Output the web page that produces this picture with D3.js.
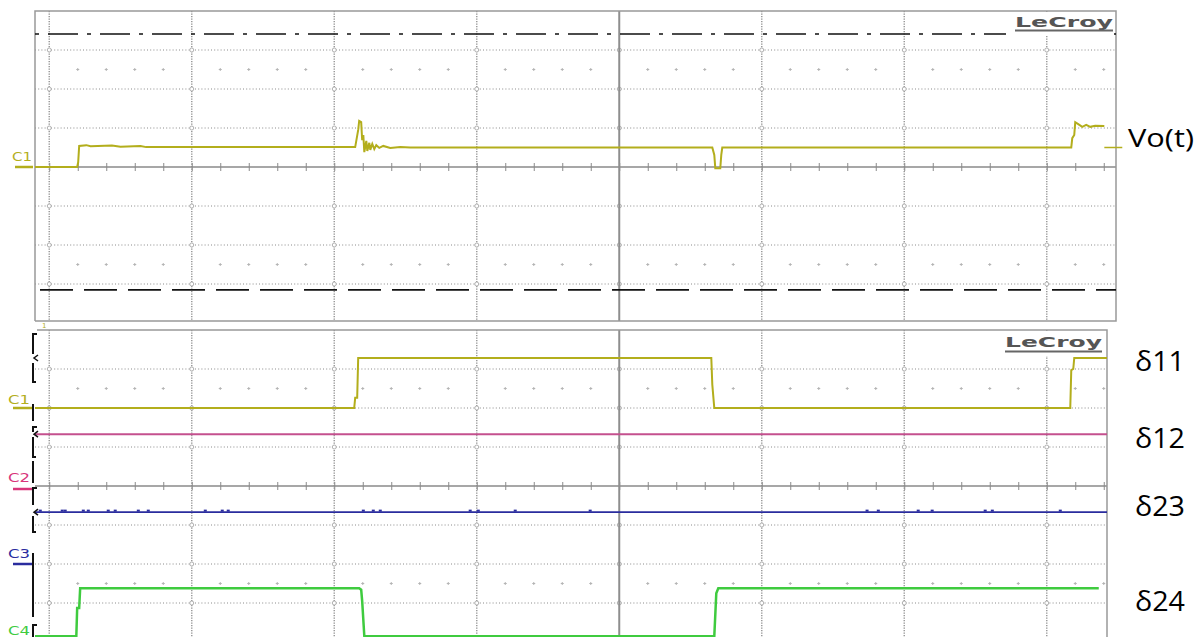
<!DOCTYPE html>
<html><head><meta charset="utf-8">
<script src="https://cdn.jsdelivr.net/npm/d3@7"></script>
<style>body{margin:0;background:#fff;overflow:hidden}svg{display:block}</style>
</head><body>
<svg id="c" width="1203" height="637"></svg>
<script>
// ---------------- DATA (time in divisions, level in divisions) ----------------
const majorTimes = [0, 1, 2, 3, 4, 5, 6, 7];
const gridLevels = [-3, -2, -1, 1, 2, 3];
const dotLevels = [-2.5, 2.5];
const cursorLevels = [3.41, -3.15];

// Vo(t) trace (top panel)
const voTime  = [-0.1, 0.196, 0.203, 0.21, 0.26, 0.29, 0.44, 0.5, 0.64, 0.68, 2.147, 2.168, 2.175, 2.189, 2.196, 2.204, 2.211, 2.225, 2.232, 2.246, 2.253, 2.267, 2.281, 2.295, 2.316, 2.344, 2.393, 2.463, 2.533, 4.653, 4.667, 4.674, 4.709, 4.716, 4.723, 7.172, 7.179, 7.193, 7.2, 7.221, 7.249, 7.277, 7.305, 7.34, 7.404];
const voLevel = [0, 0, 0.12, 0.54, 0.56, 0.53, 0.55, 0.52, 0.54, 0.51, 0.51, 0.95, 1.18, 1.15, 0.69, 0.82, 0.38, 0.67, 0.41, 0.62, 0.44, 0.59, 0.46, 0.56, 0.49, 0.54, 0.49, 0.51, 0.5, 0.5, 0.31, -0.03, -0.03, 0.31, 0.5, 0.5, 0.74, 0.82, 1.15, 1.1, 1.03, 1.08, 1.03, 1.06, 1.05];
const voTailTime = [7.404, 7.53];
const voTailLevel = [0.5, 0.5];

// delta11 (C1, bottom panel)
const d11Time  = [-0.1, 2.14, 2.147, 2.161, 2.168, 4.646, 4.653, 4.667, 7.165, 7.172, 7.186, 7.193, 7.44];
const d11Level = [2.0, 2.0, 2.26, 2.26, 3.28, 3.28, 2.6, 2.0, 2.0, 2.97, 3.0, 3.28, 3.28];
// delta12 (C2)
const d12Time  = [-0.1, 7.44];
const d12Level = [1.33, 1.33];
// delta23 (C3)
const d23Time  = [-0.1, 7.44];
const d23Level = [-0.67, -0.67];
const d23Blips = [-0.063, 0.091, 0.112, 0.239, 0.274, 0.414, 0.463, 0.625, 0.695, 1.095, 1.214, 1.256, 2.204, 2.274, 2.323, 2.954, 3.011, 3.27, 3.796, 5.739, 5.818, 6.098, 6.196, 6.568, 6.618, 7.095];
// delta24 (C4)
const d24Time  = [-0.1, 0.19, 0.196, 0.21, 0.217, 2.175, 2.189, 2.196, 2.211, 4.667, 4.674, 4.681, 4.695, 7.365];
const d24Level = [-3.85, -3.85, -3.13, -3.13, -2.62, -2.62, -2.66, -2.95, -3.85, -3.85, -3.3, -2.75, -2.62, -2.62];

const rightLabels = ["δ11", "δ12", "δ23", "δ24"];
const chanNames = ["C1", "C2", "C3", "C4"];

// ---------------- DRAWING ----------------
const svg = d3.select("#c");
const olive = "#b3ae1c", pink = "#c4508e", navy = "#2a2c9e", green = "#3fcb3f";

const x = d3.scaleLinear().domain([-0.1, 7.5]).range([35, 1118]);
const yTop = d3.scaleLinear().domain([-4, 4]).range([323, 11]);
const yBot = d3.scaleLinear().domain([-4, 4]).range([642, 330]);

const panels = [
  {y: yTop, left: 35, right: 1116, top: 11, bottom: 321, id: "pt"},
  {y: yBot, left: 35, right: 1107, top: 330, bottom: 640, id: "pb"}
];

const defs = svg.append("defs");
panels.forEach(p => {
  defs.append("clipPath").attr("id", p.id).append("rect")
    .attr("x", p.left).attr("y", p.top).attr("width", p.right - p.left).attr("height", p.bottom - p.top);
});

const minorTimes = d3.range(0, 38).map(i => +(i * 0.2).toFixed(2)).filter(t => x(t) < 1116);

panels.forEach(p => {
  const g = svg.append("g").attr("clip-path", `url(#${p.id})`);
  g.selectAll(".hg").data(gridLevels).join("line")
    .attr("x1", p.left).attr("x2", p.right)
    .attr("y1", d => p.y(d)).attr("y2", d => p.y(d))
    .attr("stroke", "#8a8a8a").attr("stroke-width", 1).attr("stroke-dasharray", "1,2.2");
  g.selectAll(".vg").data(majorTimes.filter(t => t !== 4)).join("line")
    .attr("x1", d => x(d)).attr("x2", d => x(d))
    .attr("y1", p.top).attr("y2", p.bottom)
    .attr("stroke", "#9a9a9a").attr("stroke-width", 1.5).attr("stroke-dasharray", "1.2,1.3");
  const inter = [];
  majorTimes.forEach(t => gridLevels.forEach(v => inter.push([t, v])));
  g.selectAll(".ic").data(inter).join("circle")
    .attr("cx", d => x(d[0])).attr("cy", d => p.y(d[1])).attr("r", 2)
    .attr("fill", "#fff").attr("stroke", "#a8a8a8").attr("stroke-width", 0.9);
  const dots = [];
  minorTimes.filter(t => Math.abs(t - Math.round(t)) > 0.01).forEach(t => dotLevels.forEach(v => dots.push([t, v])));
  g.selectAll(".md").data(dots).join("path")
    .attr("d", d => `M${x(d[0]) - 1.5},${p.y(d[1])}h3M${x(d[0])},${p.y(d[1]) - 1.5}v3`)
    .attr("stroke", "#b5b5b5").attr("stroke-width", 1);
  g.append("line").attr("x1", p.left).attr("x2", p.right)
    .attr("y1", p.y(0)).attr("y2", p.y(0)).attr("stroke", "#8a8a8a").attr("stroke-width", 1.5);
  const ax = d3.axisBottom(x).tickValues(minorTimes).tickSize(8).tickFormat("");
  const ag = g.append("g").attr("transform", `translate(0,${p.y(0) - 4})`).call(ax);
  ag.select(".domain").remove();
  ag.selectAll(".tick line").attr("stroke", "#8a8a8a").attr("stroke-width", 1);
  g.append("line").attr("x1", x(4)).attr("x2", x(4)).attr("y1", p.top).attr("y2", p.bottom)
    .attr("stroke", "#8e8e8e").attr("stroke-width", 2);
});

// panel frames
svg.append("path").attr("d", `M35,321V11H1116V321H35`).attr("fill", "none").attr("stroke", "#999").attr("stroke-width", 1.5);
svg.append("path").attr("d", `M37,330H1107V637`).attr("fill", "none").attr("stroke", "#999").attr("stroke-width", 1.5);
svg.append("text").attr("x", 42).attr("y", 328).attr("font-family", "DejaVu Sans").attr("font-size", 7).attr("fill", olive).text("1");

// cursors in top panel
const gt = svg.append("g").attr("clip-path", "url(#pt)");
gt.append("line").attr("x1", 35).attr("x2", 1116).attr("y1", yTop(cursorLevels[0])).attr("y2", yTop(cursorLevels[0]))
  .attr("stroke", "#111").attr("stroke-width", 1.6).attr("stroke-dasharray", "4,9,30,9");
gt.append("line").attr("x1", 35).attr("x2", 1116).attr("y1", yTop(cursorLevels[1])).attr("y2", yTop(cursorLevels[1]))
  .attr("stroke", "#111").attr("stroke-width", 1.6).attr("stroke-dasharray", "33,11").attr("stroke-dashoffset", -5);

const zip = (a, b) => a.map((d, i) => [d, b[i]]);
const lineTop = d3.line().x(d => x(d[0])).y(d => yTop(d[1]));
const lineBot = d3.line().x(d => x(d[0])).y(d => yBot(d[1]));

gt.append("path").attr("d", lineTop(zip(voTime, voLevel))).attr("fill", "none").attr("stroke", olive).attr("stroke-width", 2);

const gb = svg.append("g").attr("clip-path", "url(#pb)");
gb.append("path").attr("d", lineBot(zip(d11Time, d11Level))).attr("fill", "none").attr("stroke", olive).attr("stroke-width", 2);
gb.append("path").attr("d", lineBot(zip(d12Time, d12Level))).attr("fill", "none").attr("stroke", pink).attr("stroke-width", 2);
gb.append("path").attr("d", lineBot(zip(d23Time, d23Level))).attr("fill", "none").attr("stroke", navy).attr("stroke-width", 1.6);
gb.selectAll(".bl").data(d23Blips).join("rect")
  .attr("x", d => x(d) - 1.5).attr("y", yBot(d23Level[0]) - 2.5).attr("width", 3).attr("height", 2).attr("fill", navy);
gb.append("path").attr("d", lineBot(zip(d24Time, d24Level))).attr("fill", "none").attr("stroke", green).attr("stroke-width", 2.5);

svg.append("path").attr("d", lineTop(zip(voTailTime, voTailLevel))).attr("fill", "none").attr("stroke", olive).attr("stroke-width", 1.5);

// LeCroy labels
function lecroy(bx, by, bw, bh, tx, ty, tl, uy) {
  svg.append("rect").attr("x", bx).attr("y", by).attr("width", bw).attr("height", bh).attr("fill", "#fff");
  svg.append("text").attr("x", tx).attr("y", ty).attr("font-family", "DejaVu Sans").attr("font-weight", "bold")
    .attr("font-size", 14).attr("fill", "#555").attr("textLength", tl).attr("lengthAdjust", "spacingAndGlyphs").text("LeCroy");
  svg.append("line").attr("x1", tx).attr("x2", tx + tl).attr("y1", uy).attr("y2", uy).attr("stroke", "#666").attr("stroke-width", 2);
}
lecroy(1006, 12, 108, 24, 1015, 27, 98, 30.5);
lecroy(994, 331, 112, 25, 1005, 347, 97, 351.5);

// channel markers
const tf = "DejaVu Sans";
svg.append("text").attr("x", 12).attr("y", 161).attr("font-family", tf).attr("font-size", 13)
  .attr("textLength", 20).attr("lengthAdjust", "spacingAndGlyphs").attr("fill", olive).text(chanNames[0]);
svg.append("line").attr("x1", 15).attr("x2", 33).attr("y1", yTop(0)).attr("y2", yTop(0)).attr("stroke", olive).attr("stroke-width", 2.5);

const botMarks = [
  {name: chanNames[0], col: olive, ty: 404, my: yBot(2)},
  {name: chanNames[1], col: "#d8357a", ty: 482, my: 489},
  {name: chanNames[2], col: navy, ty: 558, my: yBot(-2)},
  {name: chanNames[3], col: green, ty: 635, my: 650}
];
botMarks.forEach(m => {
  svg.append("text").attr("x", 8).attr("y", m.ty).attr("font-family", tf).attr("font-size", 13)
    .attr("textLength", 22).attr("lengthAdjust", "spacingAndGlyphs").attr("fill", m.col).text(m.name);
  svg.append("line").attr("x1", 13).attr("x2", 32).attr("y1", m.my).attr("y2", m.my).attr("stroke", m.col).attr("stroke-width", 2.5);
});

// black trigger/offset brackets on the left of bottom panel
svg.append("path").attr("d",
  "M37,334H33V354 M33,363V382H36 M33,404V421 M37,427H33V432 M33,437V457H36 M33,461V483 M37,488H33V505 M33,516V532H36 M33,553V617 M37,625H33V640")
  .attr("fill", "none").attr("stroke", "#111").attr("stroke-width", 2);
[358, yBot(d12Level[0]), yBot(d23Level[0])].forEach(yy => {
  svg.append("path").attr("d", `M38,${yy - 3}L34,${yy}L38,${yy + 3}`).attr("fill", "none").attr("stroke", "#111").attr("stroke-width", 1.5);
});

// right-hand labels
const lf = "Open Sans";
svg.append("text").attr("x", 1128).attr("y", 147).attr("font-family", lf).attr("font-size", 26)
  .attr("textLength", 66).attr("lengthAdjust", "spacingAndGlyphs").attr("fill", "#000").text("Vo(t)");
const rl = [{t: rightLabels[0], y: 371}, {t: rightLabels[1], y: 448}, {t: rightLabels[2], y: 516}, {t: rightLabels[3], y: 611}];
rl.forEach(r => {
  svg.append("text").attr("x", 1135).attr("y", r.y).attr("font-family", lf).attr("font-size", 27)
    .attr("textLength", 50).attr("lengthAdjust", "spacingAndGlyphs").attr("fill", "#000").text(r.t);
});
</script>
</body></html>
